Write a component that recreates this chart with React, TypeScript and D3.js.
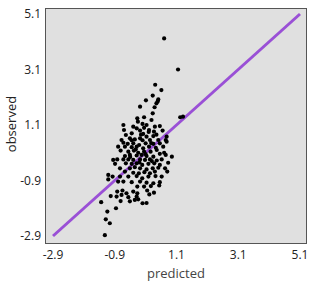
import { useEffect, useRef } from "react";
import * as d3 from "d3";

// tick values shared by both axes
const ticks = [-2.9, -0.9, 1.1, 3.1, 5.1];

// predicted (x) and observed (y) values
const predicted = [
  0.7, 1.15, 0.41, 0.61, 0.33, 0.51, 0.49, 0.45, 0.11, -0.08, 0.39, 0.33, 1.31, 1.22, 0.05, -0.17,
  -0.15, 0.29, 0.13, 0.0, -0.62, -0.3, 0.4, 0.56, -0.6, -0.19, -0.08, 0.21, 0.37, 0.65, -0.35, -0.54,
  0.02, 0.78, 0.13, 0.35, -0.68, -0.41, -0.25, -0.08, 0.24, 0.51, 0.75, -0.62, -0.48, -0.3, -0.11, 0.1,
  0.35, 0.56, 0.78, -0.79, -0.57, -0.35, -0.19, 0.02, 0.21, 0.43, 0.67, -0.71, -0.46, -0.28, -0.14, 0.05,
  0.26, 0.46, 0.7, -0.95, -0.57, -0.41, -0.19, -0.03, 0.13, 0.35, 0.56, 0.75, 0.95, -0.82, -0.62, -0.46,
  -0.3, -0.08, 0.08, 0.24, 0.46, 0.62, -0.89, -0.54, -0.35, -0.19, -0.01, 0.19, 0.38, 0.56, 0.83, -0.73,
  -0.41, -0.25, -0.08, 0.13, 0.33, 0.51, 0.73, -0.57, -0.3, -0.12, 0.06, 0.24, 0.4, 0.8, -1.11, -0.97,
  -0.73, -0.46, -0.19, -0.01, 0.19, 0.42, 0.62, -1.11, -0.79, -0.62, -0.35, -0.08, 0.13, 0.35, 0.56, -0.17,
  0.05, 0.27, 0.54, -0.82, -0.65, -0.52, -0.3, 0.15, 0.37, -0.17, -0.84, -0.68, -0.19, -0.46, -1.03, 0.22,
  -0.71, -0.25, -0.41, -0.14, -1.34, 0.0, 0.13, -0.86, -1.14, -1.19, -1.06, -1.22, 0.0, 0.2, -0.05, 0.28,
  -0.22, 0.1, -0.4, 0.3, -0.1, 0.05, 0.45, -0.35,
];
const observed = [
  4.22, 3.1, 2.55, 2.36, 2.16, 2.02, 1.95, 1.88, 1.99, 1.76, 1.74, 1.52, 1.4, 1.38, 1.38, 1.34,
  1.22, 1.28, 1.1, 1.14, 1.1, 1.04, 1.04, 1.06, 0.92, 0.98, 0.9, 0.92, 0.86, 0.9, 0.8, 0.74,
  0.78, 0.68, 0.68, 0.7, 0.56, 0.62, 0.58, 0.62, 0.56, 0.56, 0.56, 0.46, 0.42, 0.44, 0.38, 0.44,
  0.42, 0.44, 0.5, 0.32, 0.32, 0.3, 0.32, 0.26, 0.32, 0.28, 0.32, 0.18, 0.14, 0.18, 0.1, 0.14,
  0.14, 0.2, 0.1, -0.16, -0.02, 0.02, 0.0, 0.02, -0.02, -0.04, 0.06, 0.02, -0.04, -0.14, -0.14, -0.14,
  -0.16, -0.14, -0.16, -0.14, -0.18, -0.14, -0.3, -0.28, -0.3, -0.28, -0.34, -0.3, -0.28, -0.34, -0.26, -0.46,
  -0.46, -0.42, -0.46, -0.5, -0.46, -0.44, -0.46, -0.58, -0.62, -0.64, -0.6, -0.64, -0.58, -0.58, -0.7, -0.76,
  -0.76, -0.76, -0.74, -0.82, -0.76, -0.74, -0.76, -0.86, -0.94, -0.94, -0.96, -0.94, -0.98, -1.0, -0.96, -1.12,
  -1.12, -1.1, -1.08, -1.3, -1.26, -1.36, -1.3, -1.26, -1.34, -1.36, -1.48, -1.42, -1.48, -1.5, -1.46, -1.4,
  -1.64, -1.6, -1.65, -1.58, -1.68, -1.72, -1.71, -1.9, -2.02, -2.3, -2.44, -2.87, 0.55, 0.85, 0.75, 0.45,
  0.22, 0.05, -0.05, -0.2, -0.25, 1.0, 0.75, 0.55,
];

export default function App() {
  const ref = useRef<SVGSVGElement>(null);

  useEffect(() => {
    const svg = d3.select(ref.current);
    svg.selectAll("*").remove();

    const panel = { left: 45, top: 8, right: 306, bottom: 243 };
    const x = d3.scaleLinear().domain([-2.9, 5.1]).range([53, 300]);
    const y = d3.scaleLinear().domain([-2.9, 5.1]).range([236, 14]);

    svg
      .append("rect")
      .attr("x", panel.left + 0.5)
      .attr("y", panel.top + 0.5)
      .attr("width", panel.right - panel.left)
      .attr("height", panel.bottom - panel.top)
      .attr("fill", "#e0e0e0")
      .attr("stroke", "#555");

    svg
      .append("line")
      .attr("x1", x(-2.9))
      .attr("y1", y(-2.9))
      .attr("x2", x(5.1))
      .attr("y2", y(5.1))
      .attr("stroke", "#9a50d6")
      .attr("stroke-width", 3);

    svg
      .append("g")
      .selectAll("circle")
      .data(d3.zip(predicted, observed))
      .join("circle")
      .attr("cx", (d) => x(d[0]))
      .attr("cy", (d) => y(d[1]))
      .attr("r", 2.1)
      .attr("fill", "#000");

    const font = "'Open Sans', 'Noto Sans', sans-serif";

    svg
      .append("g")
      .selectAll("text")
      .data(ticks)
      .join("text")
      .attr("x", (d) => x(d))
      .attr("y", 259)
      .attr("text-anchor", "middle")
      .attr("font-family", font)
      .attr("font-size", 12)
      .attr("fill", "#222")
      .text((d) => d);

    svg
      .append("g")
      .selectAll("text")
      .data(ticks)
      .join("text")
      .attr("x", 41)
      .attr("y", (d) => y(d) + 4)
      .attr("text-anchor", "end")
      .attr("font-family", font)
      .attr("font-size", 12)
      .attr("fill", "#222")
      .text((d) => d);

    svg
      .append("text")
      .attr("x", 176)
      .attr("y", 278)
      .attr("text-anchor", "middle")
      .attr("font-family", font)
      .attr("font-size", 13)
      .attr("fill", "#444")
      .text("predicted");

    svg
      .append("text")
      .attr("transform", "translate(16,124) rotate(-90)")
      .attr("text-anchor", "middle")
      .attr("font-family", font)
      .attr("font-size", 13)
      .attr("fill", "#222")
      .text("observed");
  }, []);

  return (
    <svg
      ref={ref}
      width={314}
      height={284}
      style={{ position: "absolute", left: 0, top: 0, background: "#fff" }}
    ></svg>
  );
}
